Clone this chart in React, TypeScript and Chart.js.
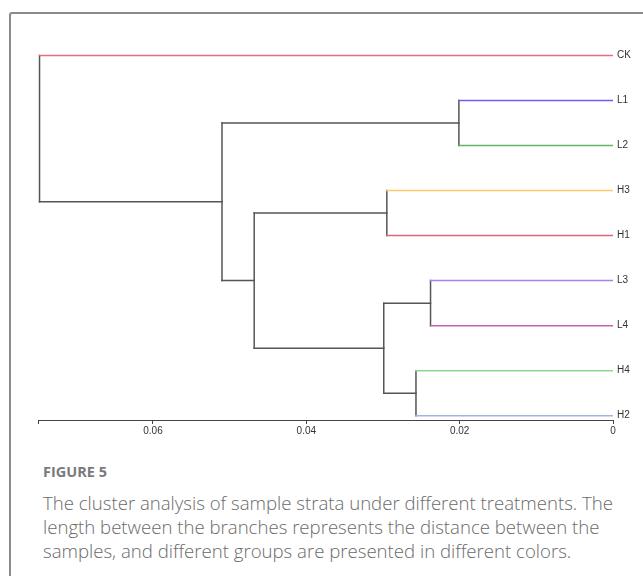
import React, { useEffect, useRef } from "react";
import { Chart, registerables } from "chart.js";

Chart.register(...registerables);

// ---- data ----
const leaves = ["CK", "L1", "L2", "H3", "H1", "L3", "L4", "H4", "H2"];
const leafColors = ["#e56f7c", "#6e5ff2", "#5fb862", "#ffc76e", "#d9687a", "#b07ff0", "#c560b2", "#8fd88f", "#a3b2e0"];
// hierarchical merges (scipy-style ids: leaves 0..8, clusters 9..)
const mergeLeft = [1, 3, 5, 7, 11, 10, 9, 0];
const mergeRight = [2, 4, 6, 8, 12, 13, 14, 15];
const mergeHeights = [0.0201, 0.0295, 0.0238, 0.0257, 0.0299, 0.0468, 0.051, 0.0748];
const tickValues = [0, 0.02, 0.04, 0.06];
const tickLabels = ["0", "0.02", "0.04", "0.06"];
const axisMax = 0.075;

const branchColor = "#555555";

function buildSegments() {
  const nodeY: number[] = leaves.map((_, i) => i);
  const nodeH: number[] = leaves.map(() => 0);
  const leafSegs: any[] = [];
  const branchSegs: any[] = [];
  mergeHeights.forEach((h, k) => {
    const a = mergeLeft[k];
    const b = mergeRight[k];
    [a, b].forEach((c) => {
      if (c < leaves.length) {
        leafSegs.push({ data: [{ x: h, y: nodeY[c] }, { x: 0, y: nodeY[c] }], color: leafColors[c] });
      } else {
        branchSegs.push({ data: [{ x: h, y: nodeY[c] }, { x: nodeH[c], y: nodeY[c] }], color: branchColor });
      }
    });
    branchSegs.push({ data: [{ x: h, y: nodeY[a] }, { x: h, y: nodeY[b] }], color: branchColor });
    nodeY.push((nodeY[a] + nodeY[b]) / 2);
    nodeH.push(h);
  });
  return [...leafSegs, ...branchSegs];
}

export default function App() {
  const ref = useRef<HTMLCanvasElement | null>(null);
  useEffect(() => {
    if (!ref.current) return;
    const segs = buildSegments();
    const chart = new Chart(ref.current, {
      type: "scatter",
      data: {
        datasets: segs.map((s) => ({
          data: s.data,
          showLine: true,
          borderColor: s.color,
          backgroundColor: s.color,
          borderWidth: 1.5,
          pointRadius: 0,
          borderCapStyle: "square",
        })),
      },
      options: {
        animation: false,
        responsive: false,
        events: [],
        layout: { padding: { left: 38, top: 33, right: 0, bottom: 0 } },
        plugins: { legend: { display: false }, tooltip: { enabled: false } },
        scales: {
          x: {
            type: "linear",
            reverse: true,
            min: 0,
            max: axisMax,
            position: "bottom",
            grid: { display: true, drawOnChartArea: false, drawTicks: true, tickLength: 4, color: "#444", lineWidth: 1 },
            border: { display: true, color: "#444", width: 1 },
            ticks: {
              autoSkip: false,
              maxRotation: 0,
              padding: 1,
              color: "#333",
              font: { family: "'Liberation Sans', Arial, sans-serif", size: 10 },
              callback: (v: any) => {
                const i = tickValues.indexOf(Number(v));
                return i >= 0 ? tickLabels[i] : "";
              },
            },
            afterBuildTicks: (s: any) => {
              s.ticks = [...tickValues, axisMax].map((v) => ({ value: v }));
            },
            afterFit: (s: any) => {
              s.height = 30;
            },
          },
          y: {
            type: "linear",
            position: "right",
            reverse: true,
            min: -0.5,
            max: 8.096,
            grid: { display: false, drawTicks: false },
            border: { display: false },
            ticks: {
              padding: 4,
              color: "#333",
              font: { family: "'Liberation Sans', Arial, sans-serif", size: 10 },
              callback: (v: any) => leaves[Number(v)] ?? "",
            },
            afterBuildTicks: (s: any) => {
              s.ticks = leaves.map((_, i) => ({ value: i }));
            },
            afterFit: (s: any) => {
              s.width = 30;
            },
          },
        },
      } as any,
    });
    return () => chart.destroy();
  }, []);

  const captionFont = "'Open Sans', 'Noto Sans', sans-serif";
  return (
    <div style={{ position: "absolute", left: 0, top: 0, width: 643, height: 576, overflow: "hidden", background: "#fff" }}>
      <div
        style={{
          position: "absolute",
          left: 9,
          top: 12,
          width: 700,
          height: 620,
          borderLeft: "2px solid #8a8a8a",
          borderTop: "2px solid #8a8a8a",
          borderTopLeftRadius: 3,
        }}
      />
      <canvas ref={ref} width={643} height={450} style={{ position: "absolute", left: 0, top: 0, width: 643, height: 450 }} />
      <div
        style={{
          position: "absolute",
          left: 43,
          top: 462,
          fontFamily: captionFont,
          fontWeight: 700,
          fontSize: 14.5,
          lineHeight: "20px",
          color: "#7a7a7a",
          whiteSpace: "nowrap",
        }}
      >
        FIGURE 5
      </div>
      <div
        style={{
          position: "absolute",
          left: 43,
          top: 491,
          fontFamily: captionFont,
          fontWeight: 300,
          fontSize: 18.6,
          lineHeight: "24px",
          color: "#6a6a6a",
          whiteSpace: "nowrap",
        }}
      >
        <div>The cluster analysis of sample strata under different treatments. The</div>
        <div>length between the branches represents the distance between the</div>
        <div>samples, and different groups are presented in different colors.</div>
      </div>
    </div>
  );
}
